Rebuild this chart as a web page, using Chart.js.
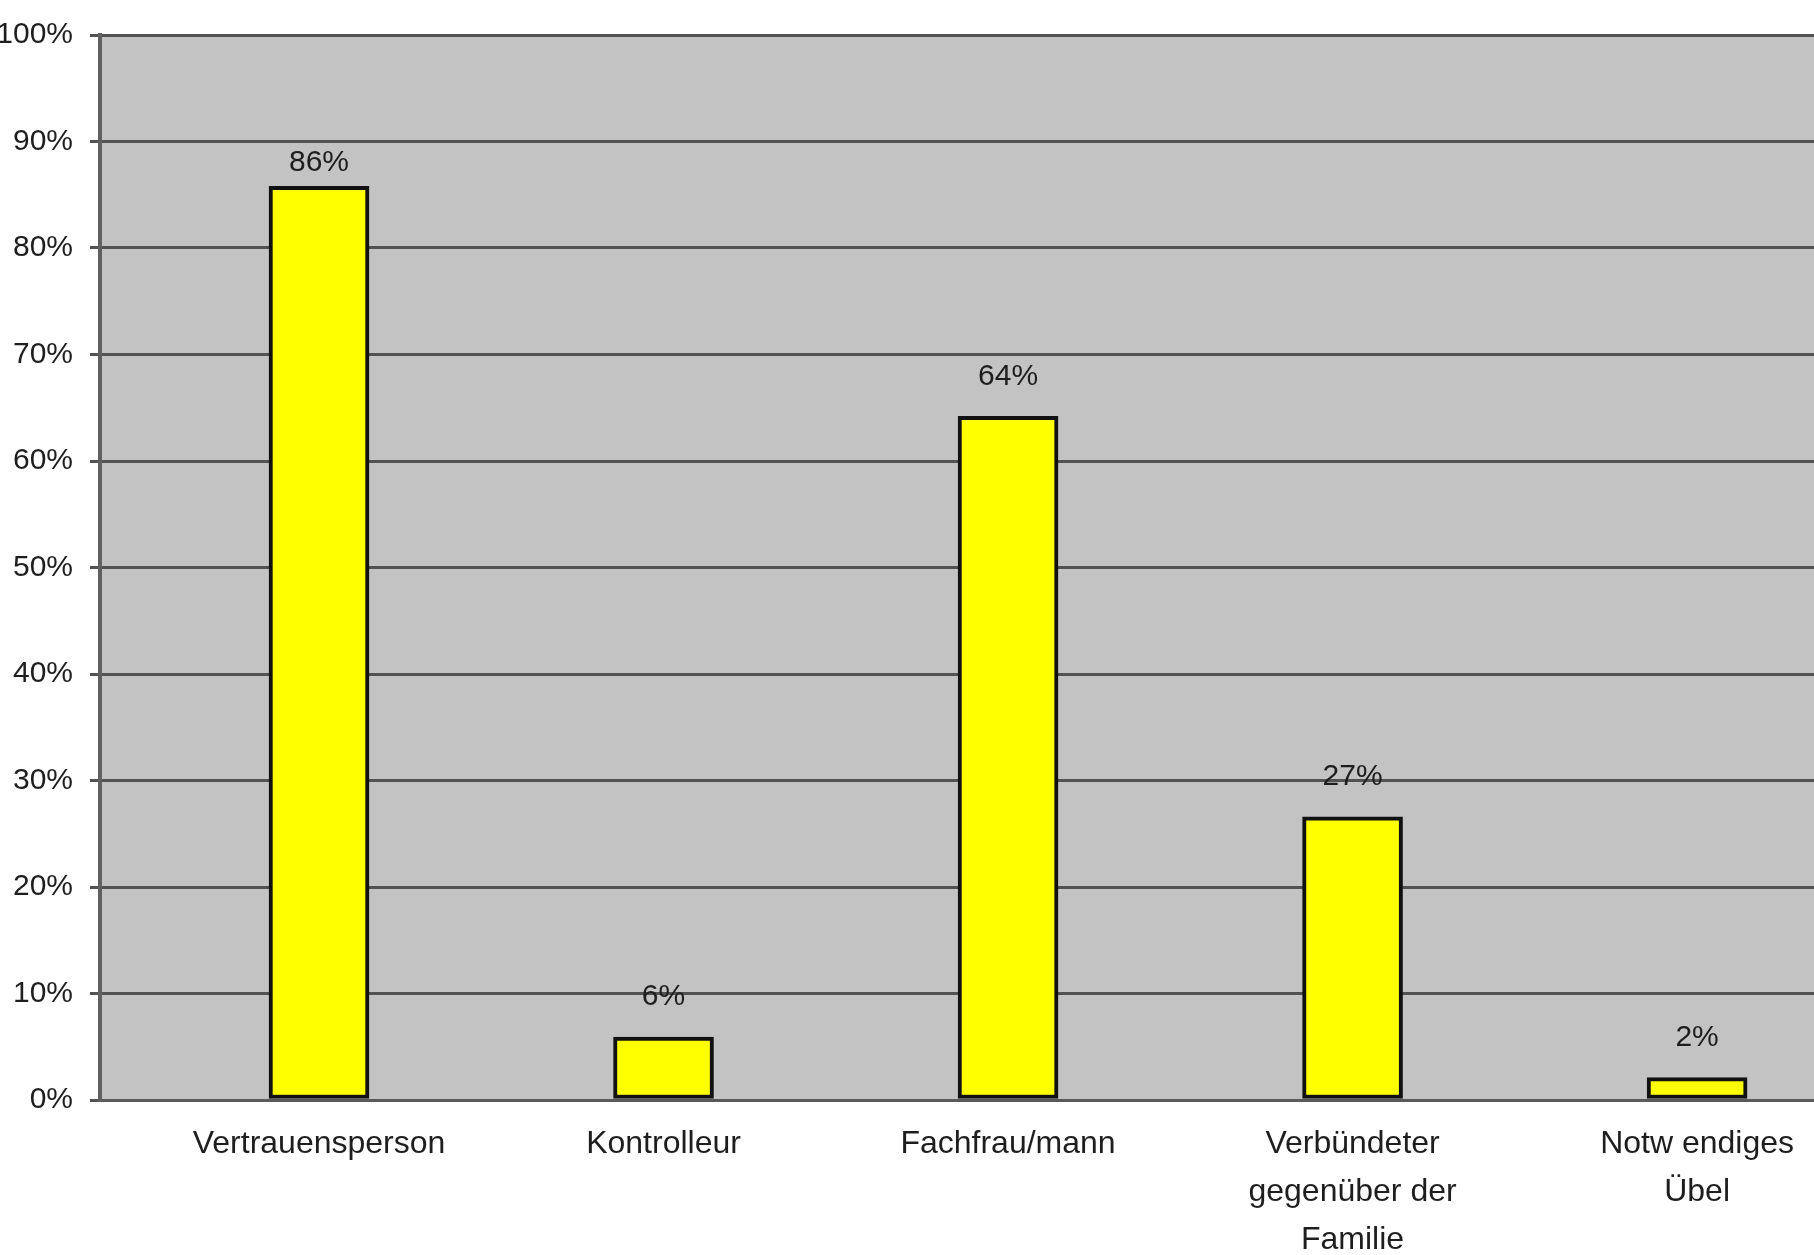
<!DOCTYPE html>
<html>
<head>
<meta charset="utf-8">
<script src="https://cdn.jsdelivr.net/npm/chart.js@4/dist/chart.umd.min.js"></script>
<style>
  html, body { margin: 0; padding: 0; background: #ffffff; overflow: hidden; }
  #wrap { position: absolute; left: 0; top: 0; width: 1900px; height: 1300px; }
</style>
</head>
<body>
<div id="wrap"><canvas id="c" width="1900" height="1300"></canvas></div>
<script>
// ---- data ----
const categories = [
  ['Vertrauensperson'],
  ['Kontrolleur'],
  ['Fachfrau/mann'],
  ['Verbündeter', 'gegenüber der', 'Familie'],
  ['Notw endiges', 'Übel']
];
const values = [85.8, 5.9, 64.2, 26.6, 2.1];
const valueLabels = ['86%', '6%', '64%', '27%', '2%'];
const yTickStep = 10;
const yMin = 0;
const yMax = 100;

// ---- styling ----
const FONT = '"Liberation Sans", Arial, sans-serif';
const TEXT = '#1e1e1e';

const plotBg = {
  id: 'plotBg',
  beforeDraw(chart) {
    const {ctx, chartArea: a} = chart;
    ctx.save();
    ctx.fillStyle = '#c3c3c3';
    ctx.fillRect(a.left, a.top, a.right - a.left, a.bottom - a.top);
    ctx.restore();
  }
};

const valueLabelPlugin = {
  id: 'valueLabels',
  afterDatasetsDraw(chart) {
    const {ctx, chartArea} = chart;
    const meta = chart.getDatasetMeta(0);
    ctx.save();
    ctx.font = '30px ' + FONT;
    ctx.fillStyle = TEXT;
    ctx.textAlign = 'center';
    ctx.textBaseline = 'middle';
    meta.data.forEach((el, i) => {
      // keep labels clear of the plot's top band
      const y = Math.max(el.y - 40, chartArea.top + 128);
      ctx.fillText(valueLabels[i], el.x, y);
    });
    ctx.restore();
  }
};

new Chart(document.getElementById('c'), {
  type: 'bar',
  data: {
    datasets: [{
      data: values.map((v, i) => ({x: i, y: v})),
      backgroundColor: '#ffff00',
      borderColor: '#111111',
      borderWidth: 4,
      borderSkipped: false,
      barThickness: 100
    }]
  },
  options: {
    responsive: false,
    animation: false,
    devicePixelRatio: 1,
    layout: { padding: { top: 31, right: 0, left: 0, bottom: 0 } },
    plugins: { legend: { display: false }, tooltip: { enabled: false }, title: { display: false } },
    scales: {
      x: {
        type: 'linear',
        offset: false,
        min: -0.6357,
        max: 4.589,
        afterBuildTicks(scale) { scale.ticks = categories.map((c, i) => ({value: i})); },
        afterFit(scale) { scale.height = 200; },
        grid: { display: false, drawTicks: false, offset: false },
        border: { display: true, color: '#5a5a5a', width: 3 },
        ticks: {
          autoSkip: false,
          maxRotation: 0,
          minRotation: 0,
          padding: 20,
          color: TEXT,
          font: { family: FONT, size: 32, lineHeight: 1.5 },
          callback: (v) => categories[v] || ''
        }
      },
      y: {
        min: yMin,
        max: yMax,
        afterFit(scale) { scale.width = 100; },
        grid: { color: '#525252', lineWidth: 3, tickLength: 10, drawTicks: true },
        border: { display: true, color: '#606060', width: 4 },
        ticks: {
          stepSize: yTickStep,
          padding: 17,
          color: TEXT,
          font: { family: FONT, size: 30 },
          callback: (v) => v + '%'
        }
      }
    }
  },
  plugins: [plotBg, valueLabelPlugin]
});
</script>
</body>
</html>
